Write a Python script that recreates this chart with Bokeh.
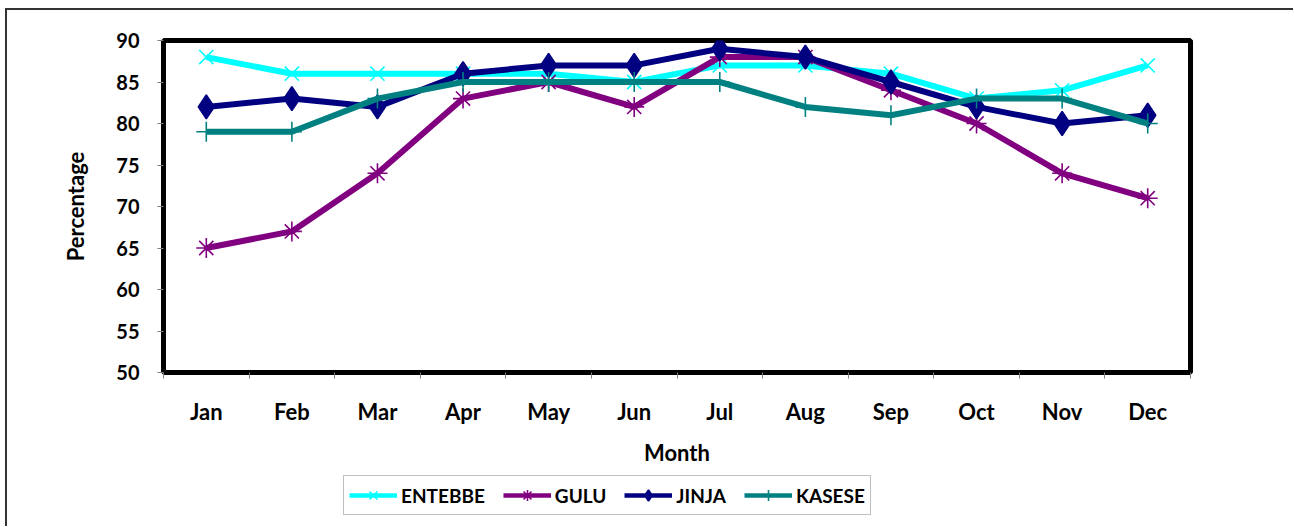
from bokeh.plotting import figure
from bokeh.models import FixedTicker, Legend, LegendItem, Range1d
from bokeh.layouts import column
from bokeh.embed import file_html
from bokeh.resources import INLINE

months = ["Jan", "Feb", "Mar", "Apr", "May", "Jun", "Jul", "Aug", "Sep", "Oct", "Nov", "Dec"]
entebbe = [88, 86, 86, 86, 86, 85, 87, 87, 86, 83, 84, 87]
gulu = [65, 67, 74, 83, 85, 82, 88, 88, 84, 80, 74, 71]
jinja = [82, 83, 82, 86, 87, 87, 89, 88, 85, 82, 80, 81]
kasese = [79, 79, 83, 85, 85, 85, 85, 82, 81, 83, 83, 80]
y_ticks = [50, 55, 60, 65, 70, 75, 80, 85, 90]

x = list(range(1, len(months) + 1))
FONT = "Lato"
W = 1286

p = figure(width=W, height=462, output_backend="svg", toolbar_location=None,
           x_range=Range1d(0.5, len(months) + 0.5), y_range=Range1d(50, 90),
           min_border_left=156, min_border_right=103, min_border_top=30, min_border_bottom=100)
p.xgrid.visible = False
p.ygrid.visible = False
p.outline_line_color = "black"
p.outline_line_width = 5
p.background_fill_color = "white"
p.border_fill_color = "white"

series = [
    ("ENTEBBE", entebbe, "#00FFFF", "x", 20),
    ("GULU", gulu, "#800080", "asterisk", 20),
    ("JINJA", jinja, "#000080", "diamond", 24),
    ("KASESE", kasese, "#008080", "cross", 20),
]

# legend-only figure (its glyphs lie outside its visible range)
pl = figure(width=W, height=54, output_backend="svg", toolbar_location=None,
            x_range=Range1d(-3, -2), y_range=Range1d(50, 90),
            min_border=0, x_axis_location=None, y_axis_location=None)
pl.xgrid.visible = False
pl.ygrid.visible = False
pl.outline_line_color = None
pl.background_fill_color = "white"
pl.border_fill_color = "white"

items = []
for name, vals, col, mk, sz in series:
    p.line(x, vals, line_color=col, line_width=6)
    p.scatter(x, vals, marker=mk, size=sz, line_color=col, fill_color=col, line_width=1.6)
    l2 = pl.line(x, vals, line_color=col, line_width=4.5)
    s2 = pl.scatter(x, vals, marker=mk, size=16, line_color=col, fill_color=col, line_width=1.6)
    items.append(LegendItem(label=name, renderers=[l2, s2]))

# axes
xa = p.xaxis[0]
xa.ticker = FixedTicker(ticks=x, minor_ticks=[v + 0.5 for v in range(0, len(months) + 1)])
xa.major_label_overrides = {i + 1: m for i, m in enumerate(months)}
xa.major_tick_out = 0
xa.major_tick_in = 0
xa.minor_tick_out = 6
xa.minor_tick_in = 0
xa.minor_tick_line_color = "#808080"
xa.axis_line_color = None
xa.major_label_standoff = 19
xa.major_label_text_font = FONT
xa.major_label_text_font_style = "bold"
xa.major_label_text_font_size = "22px"
xa.major_label_text_color = "black"
xa.axis_label = "Month"
xa.axis_label_text_font = FONT
xa.axis_label_text_font_style = "bold"
xa.axis_label_text_font_size = "22px"
xa.axis_label_text_color = "black"
xa.axis_label_standoff = 11

ya = p.yaxis[0]
ya.ticker = FixedTicker(ticks=y_ticks, minor_ticks=[])
ya.major_tick_out = 6
ya.major_tick_in = 0
ya.major_tick_line_color = "#808080"
ya.axis_line_color = None
ya.major_label_standoff = 18
ya.major_label_text_font = FONT
ya.major_label_text_font_style = "bold"
ya.major_label_text_font_size = "20px"
ya.major_label_text_color = "black"
ya.axis_label = "Percentage"
ya.axis_label_text_font = FONT
ya.axis_label_text_font_style = "bold"
ya.axis_label_text_font_size = "22px"
ya.axis_label_text_color = "black"
ya.axis_label_standoff = 24

legend = Legend(items=items, orientation="horizontal", location=(180, 11),
                glyph_width=48, glyph_height=28, label_standoff=4, spacing=18,
                padding=5, margin=0,
                label_text_font=FONT, label_text_font_style="bold", label_text_font_size="19px",
                label_text_color="black",
                border_line_color="#808080", border_line_width=1.5,
                background_fill_color="white", background_fill_alpha=1.0)
pl.add_layout(legend, "center")

layout = column(p, pl, spacing=0,
                styles={"margin-left": "5px", "margin-top": "8px",
                        "border-top": "2px solid #333333", "border-left": "2px solid #333333"})

open("out.html", "w").write(file_html(layout, INLINE))
